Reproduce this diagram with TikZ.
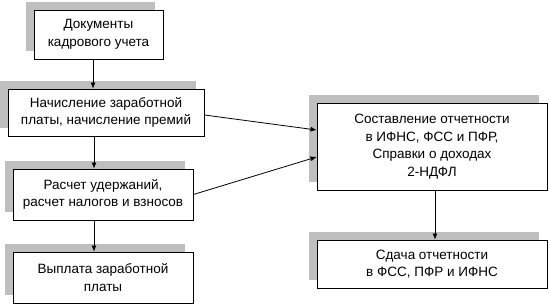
\documentclass[tikz,border=0pt]{standalone}
\usepackage{fontspec}
\setmainfont{Liberation Sans}
\usepackage{tikz}
\usetikzlibrary{arrows.meta,shadows,positioning}
\definecolor{shadowgray}{RGB}{191,191,191}

\begin{document}
\begin{tikzpicture}[
  x=1pt, y=1pt,
  every node/.style={font=\fontsize{13.5}{17.5}\selectfont},
  stagebox/.style={draw=black, line width=0.8pt, fill=white,
                   align=center, inner sep=0pt,
                   general shadow={fill=shadowgray, shadow xshift=-8pt, shadow yshift=8pt}},
  arrow/.style={-{Latex[length=6pt, width=5pt]}, line width=0.8pt, black},
]
\useasboundingbox (0,0) rectangle (550,308);

%% ── Left column ─────────────────────────────────────────────────────────────
\node[stagebox, minimum width=129pt, minimum height=49pt] (doc)     at (98.5,273.5) {Документы\\кадрового учета};
\node[stagebox, minimum width=196pt, minimum height=47pt] (accrual) at (106,195.5)  {Начисление заработной\\платы, начисление премий};
\node[stagebox, minimum width=180pt, minimum height=51pt] (deduct)  at (103,113.5)  {Расчет удержаний,\\расчет налогов и взносов};
\node[stagebox, minimum width=180pt, minimum height=51pt] (payout)  at (103,30.5)   {Выплата заработной\\платы};

%% ── Right column ────────────────────────────────────────────────────────────
\node[stagebox, minimum width=230pt, minimum height=87pt] (report)  at (432,161.5)  {Составление отчетности\\в ИФНС, ФСС и ПФР,\\Справки о доходах\\2-НДФЛ};
\node[stagebox, minimum width=230pt, minimum height=48pt] (submit)  at (432,44)     {Сдача отчетности\\в ФСС, ПФР и ИФНС};

%% ── Connectors ──────────────────────────────────────────────────────────────
\draw[arrow] ([xshift=-5.5pt]doc.south)   -- ([xshift=-5.5pt]doc.south |- accrual.north);
\draw[arrow] ([xshift=-12pt]accrual.south) -- ([xshift=-12pt]accrual.south |- deduct.north);
\draw[arrow] ([xshift=-9pt]deduct.south)  -- ([xshift=-9pt]deduct.south |- payout.north);
\draw[arrow] ([yshift=-2.5pt]accrual.east) -- ([yshift=16.5pt]report.west);
\draw[arrow] (deduct.east)                -- ([yshift=-10.5pt]report.west);
\draw[arrow] ([xshift=3pt]report.south)   -- ([xshift=3pt]report.south |- submit.north);

\end{tikzpicture}
\end{document}
